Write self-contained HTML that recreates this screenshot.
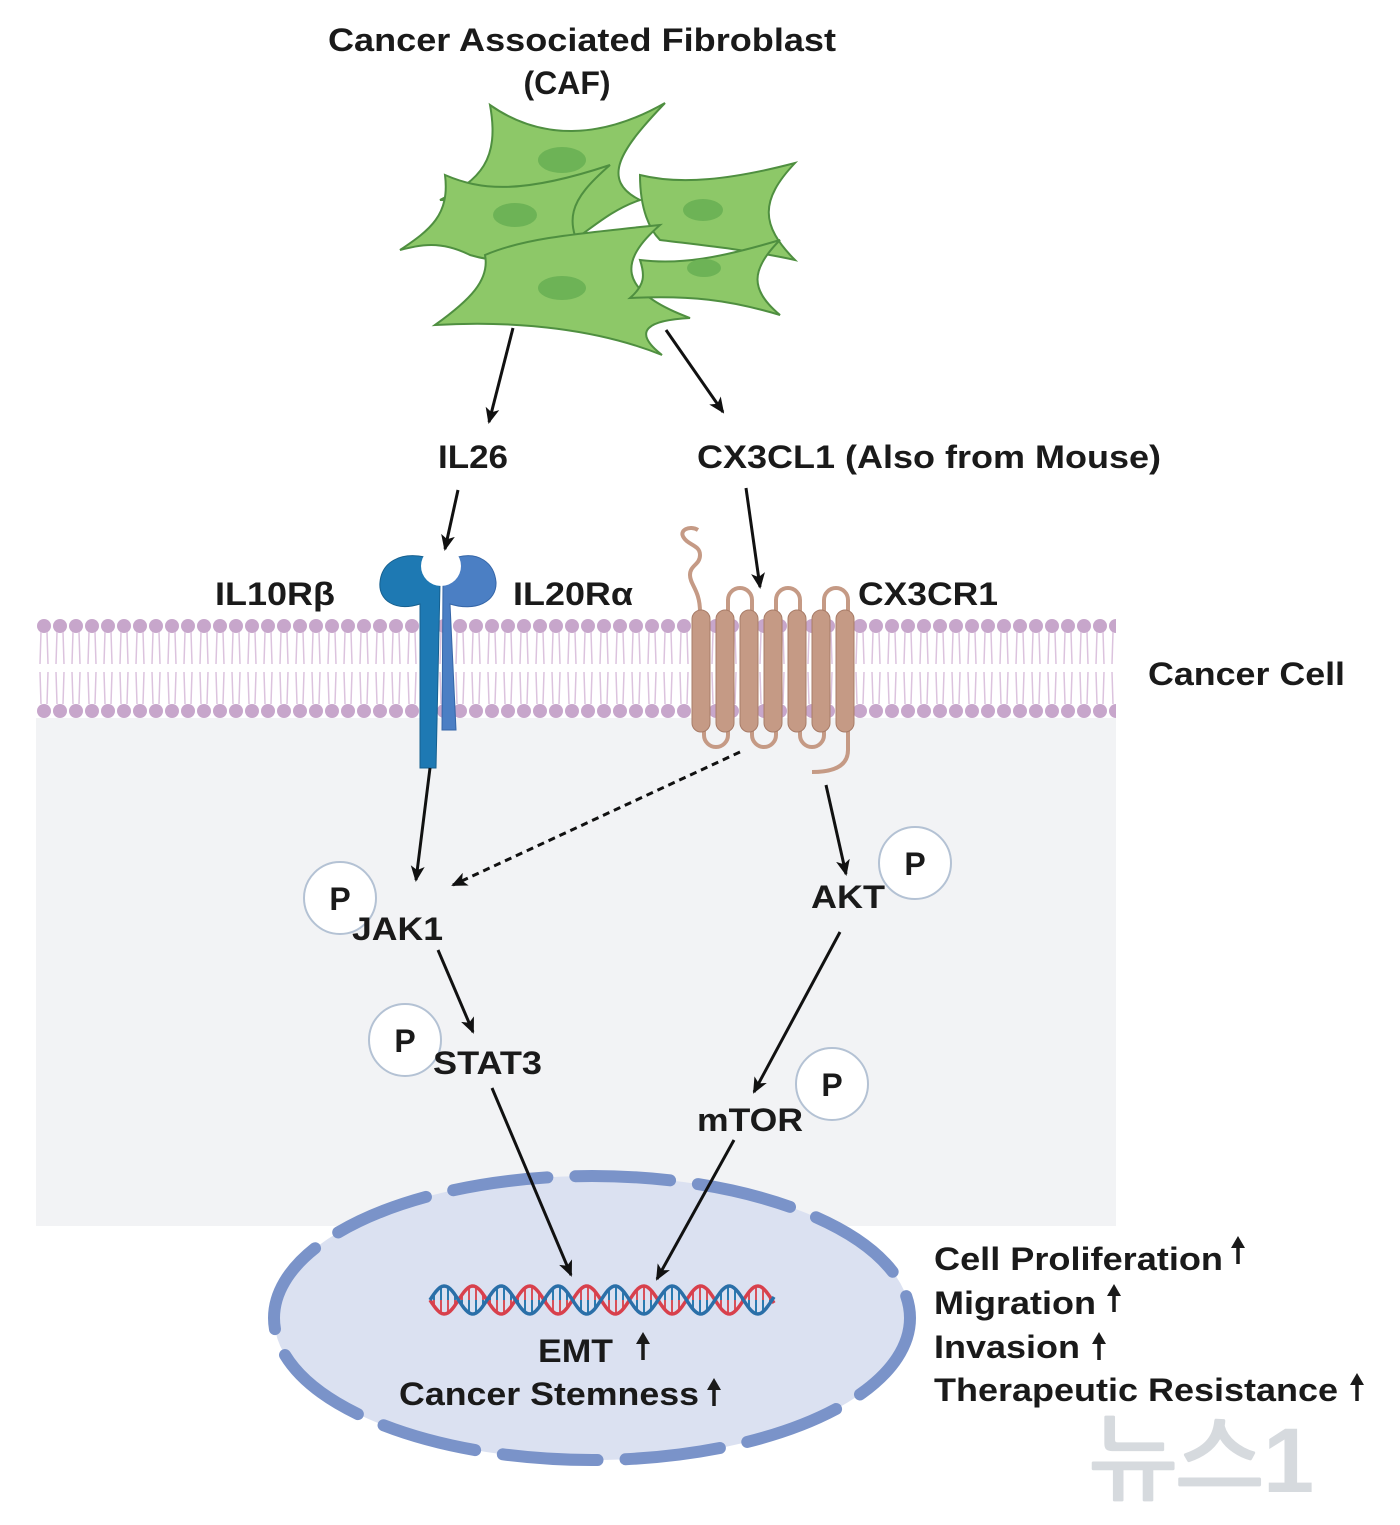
<!DOCTYPE html>
<html><head><meta charset="utf-8"><style>
html,body{margin:0;padding:0;background:#fff}
svg{display:block}
text{font-family:"Liberation Sans",Arial,sans-serif;font-weight:bold;fill:#1a1a1a}
</style></head><body>
<svg id="s" width="1400" height="1525" viewBox="0 0 1400 1525" xmlns="http://www.w3.org/2000/svg">
<defs>
<pattern id="mem" x="36" y="0" width="16" height="1525" patternUnits="userSpaceOnUse">
<circle cx="8" cy="626" r="7" fill="#c7a6cb"/>
<circle cx="8" cy="711" r="7" fill="#c7a6cb"/>
<path d="M5 632 L4 664 M11 632 L12 664 M4 672 L5 704 M12 672 L11 704" stroke="#dcc3de" stroke-width="1.5" fill="none"/>
</pattern>
<marker id="ah" markerWidth="16" markerHeight="16" refX="14" refY="8" orient="auto" markerUnits="userSpaceOnUse" viewBox="0 0 16 16">
<path d="M0 1 L16 8 L0 15 L4 8 Z" fill="#111"/></marker>
<g id="up"><line x1="0" y1="-2" x2="0" y2="-26" stroke="#1a1a1a" stroke-width="3.5"/><path d="M-7 -18 L0 -30 L7 -18 Z" fill="#1a1a1a"/></g>
</defs>
<rect x="36" y="718" width="1080" height="508" fill="#f2f3f5"/>
<rect x="36" y="616" width="1080" height="104" fill="url(#mem)"/>

<!-- fibroblasts -->
<g fill="#8dc868" stroke="#4f8f40" stroke-width="2">
<path d="M490 105 C540 140 600 140 665 103 C620 150 600 180 640 200 C610 210 590 230 560 250 C520 220 480 200 440 200 C480 180 500 160 490 105 Z"/>
<path d="M445 175 C480 190 520 195 610 165 C570 200 560 220 590 265 C550 250 520 270 470 255 C440 240 420 245 400 250 C430 230 450 215 445 175 Z"/>
<path d="M640 175 C680 185 730 180 795 163 C760 200 760 225 795 260 C750 250 700 245 660 240 C650 230 640 210 640 175 Z"/>
<path d="M485 255 C520 240 560 235 660 225 C620 260 615 290 690 318 C650 320 630 330 662 355 C600 330 520 320 435 325 C470 300 490 280 485 255 Z"/>
<path d="M640 260 C680 265 720 258 780 240 C750 270 750 290 780 315 C730 300 690 295 630 298 C645 285 645 275 640 260 Z"/>
</g>
<g fill="#6db356">
<ellipse cx="562" cy="160" rx="24" ry="13"/><ellipse cx="515" cy="215" rx="22" ry="12"/>
<ellipse cx="703" cy="210" rx="20" ry="11"/><ellipse cx="562" cy="288" rx="24" ry="12"/><ellipse cx="704" cy="268" rx="17" ry="9"/>
</g>

<!-- nucleus -->
<ellipse cx="592" cy="1318" rx="318" ry="142" fill="#dbe1f1" stroke="#7a93c9" stroke-width="12" stroke-dasharray="95 28" stroke-linecap="round"/>

<!-- IL receptor -->
<path d="M420 604 C395 612 378 600 380 582 C382 562 400 552 425 557 C420 570 428 582 440 584 L436 768 L420 768 Z" fill="#1e79b3" stroke="#16608f" stroke-width="1"/>
<path d="M450 604 C475 612 497 602 496 582 C494 562 478 552 458 557 C463 570 456 582 443 584 L442 730 L456 730 Z" fill="#4b7fc4" stroke="#3566a8" stroke-width="1"/>
<circle cx="441" cy="566" r="20" fill="#fff"/>

<!-- CX3CR1 -->
<g fill="none" stroke="#c59a85" stroke-width="4">
<path d="M700 612 C700 590 690 585 690 575 C690 565 700 565 700 555 C700 545 688 545 684 538 C678 530 690 525 698 530"/>
<path d="M728 612 L728 600 A12 12 0 0 1 752 600 L752 612"/>
<path d="M776 612 L776 600 A12 12 0 0 1 800 600 L800 612"/>
<path d="M824 612 L824 600 A12 12 0 0 1 848 600 L848 612"/>
<path d="M704 728 L704 735 A12 12 0 0 0 728 735 L728 728"/>
<path d="M752 728 L752 735 A12 12 0 0 0 776 735 L776 728"/>
<path d="M800 728 L800 735 A12 12 0 0 0 824 735 L824 728"/>
<path d="M848 728 L848 750 C848 768 830 772 812 772"/>
</g>
<g fill="#c59a85" stroke="#a87c68" stroke-width="1">
<rect x="692" y="610" width="18" height="122" rx="9"/><rect x="716" y="610" width="18" height="122" rx="9"/>
<rect x="740" y="610" width="18" height="122" rx="9"/><rect x="764" y="610" width="18" height="122" rx="9"/>
<rect x="788" y="610" width="18" height="122" rx="9"/><rect x="812" y="610" width="18" height="122" rx="9"/>
<rect x="836" y="610" width="18" height="122" rx="9"/>
</g>

<!-- arrows -->
<g stroke="#111" stroke-width="3" fill="none" marker-end="url(#ah)">
<line x1="513" y1="328" x2="489" y2="422"/>
<line x1="666" y1="330" x2="723" y2="412"/>
<line x1="458" y1="490" x2="445" y2="549"/>
<line x1="746" y1="488" x2="760" y2="587"/>
<line x1="430" y1="768" x2="416" y2="880"/>
<line x1="740" y1="752" x2="453" y2="885" stroke-dasharray="7 5"/>
<line x1="826" y1="785" x2="846" y2="874"/>
<line x1="438" y1="950" x2="473" y2="1032"/>
<line x1="840" y1="932" x2="754" y2="1092"/>
<line x1="492" y1="1088" x2="571" y2="1275"/>
<line x1="734" y1="1140" x2="657" y2="1279"/>
</g>

<!-- P circles -->
<g fill="#fff" stroke="#b4c2d4" stroke-width="2">
<circle cx="340" cy="898" r="36"/><circle cx="915" cy="863" r="36"/>
<circle cx="405" cy="1040" r="36"/><circle cx="832" cy="1084" r="36"/>
</g>
<g font-size="32">
<text x="340" y="910" text-anchor="middle">P</text>
<text x="915" y="875" text-anchor="middle">P</text>
<text x="405" y="1052" text-anchor="middle">P</text>
<text x="832" y="1096" text-anchor="middle">P</text>
</g>

<g id="dna"></g>

<g font-size="32">
<text x="582" y="51" text-anchor="middle" textLength="508" lengthAdjust="spacingAndGlyphs">Cancer Associated Fibroblast</text>
<text x="567" y="94" text-anchor="middle">(CAF)</text>
<text x="438" y="468" textLength="70" lengthAdjust="spacingAndGlyphs">IL26</text>
<text x="697" y="468" textLength="464" lengthAdjust="spacingAndGlyphs">CX3CL1 (Also from Mouse)</text>
<text x="215" y="605" textLength="120" lengthAdjust="spacingAndGlyphs">IL10Rβ</text>
<text x="513" y="605" textLength="120" lengthAdjust="spacingAndGlyphs">IL20Rα</text>
<text x="858" y="605" textLength="140" lengthAdjust="spacingAndGlyphs">CX3CR1</text>
<text x="1148" y="685" textLength="197" lengthAdjust="spacingAndGlyphs">Cancer Cell</text>
<text x="352" y="940" textLength="91" lengthAdjust="spacingAndGlyphs">JAK1</text>
<text x="811" y="908" textLength="74" lengthAdjust="spacingAndGlyphs">AKT</text>
<text x="433" y="1074" textLength="109" lengthAdjust="spacingAndGlyphs">STAT3</text>
<text x="697" y="1131" textLength="106" lengthAdjust="spacingAndGlyphs">mTOR</text>
<text x="538" y="1362" textLength="75" lengthAdjust="spacingAndGlyphs">EMT</text>
<text x="399" y="1405" textLength="300" lengthAdjust="spacingAndGlyphs">Cancer Stemness</text>
<text x="934" y="1270" textLength="289" lengthAdjust="spacingAndGlyphs">Cell Proliferation</text>
<text x="934" y="1314" textLength="162" lengthAdjust="spacingAndGlyphs">Migration</text>
<text x="934" y="1358" textLength="146" lengthAdjust="spacingAndGlyphs">Invasion</text>
<text x="934" y="1401" textLength="404" lengthAdjust="spacingAndGlyphs">Therapeutic Resistance</text>
</g>
<use href="#up" x="643" y="1362"/>
<use href="#up" x="714" y="1408"/>
<use href="#up" x="1238" y="1266"/>
<use href="#up" x="1114" y="1314"/>
<use href="#up" x="1099" y="1362"/>
<use href="#up" x="1357" y="1403"/>
<text x="1090" y="1492" font-size="92" style="fill:#d0d4d9;opacity:0.85;font-family:'Liberation Sans','NanumGothic','Noto Sans CJK KR',sans-serif">뉴스1</text>
</svg>
<script>
(function(){
var g=document.getElementById('dna'),ns='http://www.w3.org/2000/svg';
var x0=430,x1=775,cy=1300,A=14,per=57;
function path(ph,col){var d='';for(var x=x0;x<=x1;x+=2){var y=cy+A*Math.sin((x-x0)/per*2*Math.PI+ph);d+=(x==x0?'M':'L')+x+' '+y.toFixed(1);}
var p=document.createElementNS(ns,'path');p.setAttribute('d',d);p.setAttribute('stroke',col);p.setAttribute('stroke-width','3.5');p.setAttribute('fill','none');return p;}
for(var x=x0+4;x<x1;x+=7){var a=cy+A*Math.sin((x-x0)/per*2*Math.PI),b=cy+A*Math.sin((x-x0)/per*2*Math.PI+Math.PI);
var l=document.createElementNS(ns,'line');l.setAttribute('x1',x);l.setAttribute('x2',x);l.setAttribute('y1',a);l.setAttribute('y2',(a+b)/2);l.setAttribute('stroke','#d8505a');l.setAttribute('stroke-width','2');g.appendChild(l);
var m=document.createElementNS(ns,'line');m.setAttribute('x1',x);m.setAttribute('x2',x);m.setAttribute('y1',(a+b)/2);m.setAttribute('y2',b);m.setAttribute('stroke','#2a7ab0');m.setAttribute('stroke-width','2');g.appendChild(m);}
g.appendChild(path(0,'#d8404c'));g.appendChild(path(Math.PI,'#2a6fa8'));
})();
</script>
</body></html>
